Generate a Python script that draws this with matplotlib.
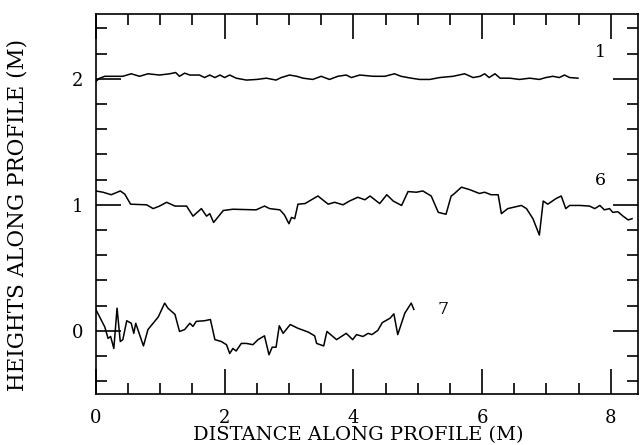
import matplotlib
matplotlib.use("Agg")
import matplotlib.pyplot as plt
from matplotlib.ticker import MultipleLocator

# Profile 1 (offset ~2 m)
p1_x = [0.00, 0.06, 0.14, 0.32, 0.42, 0.55, 0.68, 0.81, 0.99, 1.15, 1.24, 1.30, 1.38, 1.46,
        1.61, 1.69, 1.77, 1.85, 1.93, 2.00, 2.08, 2.18, 2.34, 2.50, 2.65, 2.80, 2.88, 3.01,
        3.12, 3.22, 3.37, 3.50, 3.63, 3.76, 3.89, 3.97, 4.10, 4.31, 4.49, 4.64, 4.74, 4.90,
        5.03, 5.19, 5.34, 5.55, 5.73, 5.86, 5.97, 6.04, 6.11, 6.20, 6.28, 6.43, 6.58, 6.74,
        6.89, 6.99, 7.10, 7.20, 7.28, 7.36, 7.49]
p1_y = [1.98, 2.005, 2.02, 2.02, 2.02, 2.04, 2.02, 2.04, 2.03, 2.04, 2.05, 2.02, 2.045, 2.03,
        2.03, 2.01, 2.03, 2.01, 2.03, 2.01, 2.03, 2.005, 1.99, 1.995, 2.005, 1.99, 2.01, 2.03,
        2.02, 2.005, 1.995, 2.02, 1.995, 2.02, 2.03, 2.01, 2.03, 2.02, 2.02, 2.04, 2.02, 2.005,
        1.995, 1.995, 2.01, 2.02, 2.04, 2.01, 2.02, 2.04, 2.01, 2.04, 2.005, 2.005, 1.995, 2.005,
        1.995, 2.01, 2.02, 2.01, 2.03, 2.01, 2.005]

# Profile 6 (offset ~1 m)
p6_x = [0.00, 0.11, 0.24, 0.38, 0.45, 0.54, 0.79, 0.89, 0.99, 1.10, 1.23, 1.41, 1.51, 1.64,
        1.72, 1.77, 1.83, 1.98, 2.13, 2.49, 2.62, 2.70, 2.86, 2.93, 3.00, 3.04, 3.09, 3.14,
        3.25, 3.45, 3.61, 3.71, 3.84, 3.94, 4.07, 4.18, 4.26, 4.41, 4.52, 4.62, 4.75, 4.85,
        4.98, 5.08, 5.21, 5.32, 5.44, 5.52, 5.55, 5.68, 5.81, 5.96, 6.04, 6.14, 6.25, 6.30,
        6.40, 6.61, 6.69, 6.79, 6.89, 6.95, 7.02, 7.15, 7.23, 7.30, 7.36, 7.52, 7.67, 7.75,
        7.83, 7.90, 7.98, 8.03, 8.11, 8.19, 8.27, 8.33]
p6_y = [1.11, 1.10, 1.08, 1.11, 1.085, 1.005, 1.00, 0.97, 0.99, 1.02, 0.99, 0.99, 0.91, 0.97,
        0.91, 0.93, 0.86, 0.955, 0.965, 0.96, 0.99, 0.97, 0.96, 0.92, 0.85, 0.90, 0.89, 1.005,
        1.01, 1.07, 1.005, 1.02, 1.00, 1.03, 1.06, 1.04, 1.07, 1.01, 1.08, 1.03, 0.995, 1.105,
        1.10, 1.11, 1.07, 0.94, 0.925, 1.07, 1.08, 1.14, 1.12, 1.09, 1.10, 1.08, 1.08, 0.93,
        0.97, 0.995, 0.97, 0.89, 0.76, 1.03, 1.005, 1.05, 1.07, 0.97, 0.995, 0.995, 0.99, 0.97,
        0.995, 0.96, 0.97, 0.94, 0.945, 0.91, 0.88, 0.89]

# Profile 7 (offset ~0 m)
p7_x = [0.00, 0.06, 0.14, 0.19, 0.23, 0.28, 0.33, 0.38, 0.42, 0.48, 0.55, 0.59, 0.62, 0.74,
        0.81, 0.97, 1.07, 1.12, 1.23, 1.30, 1.38, 1.46, 1.51, 1.56, 1.69, 1.78, 1.85, 1.95,
        2.03, 2.08, 2.13, 2.18, 2.26, 2.34, 2.44, 2.52, 2.62, 2.69, 2.74, 2.80, 2.85, 2.91,
        3.02, 3.14, 3.30, 3.40, 3.43, 3.54, 3.59, 3.74, 3.89, 3.99, 4.05, 4.15, 4.23, 4.29,
        4.38, 4.45, 4.57, 4.63, 4.69, 4.80, 4.90, 4.94]
p7_y = [0.17, 0.11, 0.03, -0.06, -0.045, -0.14, 0.18, -0.085, -0.07, 0.08, 0.06, -0.02, 0.06, -0.12,
        0.01, 0.11, 0.22, 0.18, 0.13, -0.005, 0.01, 0.06, 0.035, 0.075, 0.08, 0.09, -0.07, -0.085,
        -0.11, -0.18, -0.14, -0.16, -0.10, -0.10, -0.11, -0.07, -0.04, -0.19, -0.13, -0.13, 0.04, -0.02,
        0.05, 0.02, -0.01, -0.04, -0.10, -0.12, -0.005, -0.07, -0.02, -0.07, -0.03, -0.045, -0.02, -0.03,
        0.003, 0.065, 0.10, 0.135, -0.03, 0.14, 0.22, 0.17]

profile_labels = ["1", "6", "7"]
label_pos = [(7.75, 2.21), (7.75, 1.19), (5.3, 0.17)]

plt.rcParams['font.family'] = ['DejaVu Serif']

fig = plt.figure(figsize=(6.43, 4.45), dpi=100)
ax = fig.add_axes([0.149, 0.115, 0.843, 0.854])

for xs, ys in [(p1_x, p1_y), (p6_x, p6_y), (p7_x, p7_y)]:
    ax.plot(xs, ys, color='black', lw=1.1)

for lab, (lx, ly) in zip(profile_labels, label_pos):
    ax.text(lx, ly, lab, fontsize=12.5, ha='left', va='center')

ax.set_xlim(0, 8.42)
ax.set_ylim(-0.5, 2.516)
ax.xaxis.set_major_locator(MultipleLocator(2))
ax.xaxis.set_minor_locator(MultipleLocator(0.5))
ax.yaxis.set_major_locator(MultipleLocator(1))
ax.yaxis.set_minor_locator(MultipleLocator(0.2))
ax.tick_params(which='both', direction='in', top=True, right=True, width=1.2, labelsize=13)
ax.tick_params(which='major', length=18)
ax.tick_params(axis='x', which='major', pad=11)
ax.tick_params(axis='y', which='major', pad=9)
ax.tick_params(which='minor', length=8)
for s in ax.spines.values():
    s.set_linewidth(1.2)

ax.set_xlabel("DISTANCE ALONG PROFILE (M)", fontsize=14)
ax.set_ylabel("HEIGHTS ALONG PROFILE (M)", fontsize=15.5)
ax.xaxis.set_label_coords(0.485, -0.086)
ax.yaxis.set_label_coords(-0.125, 0.47)

fig.savefig("out.png", dpi=100)
